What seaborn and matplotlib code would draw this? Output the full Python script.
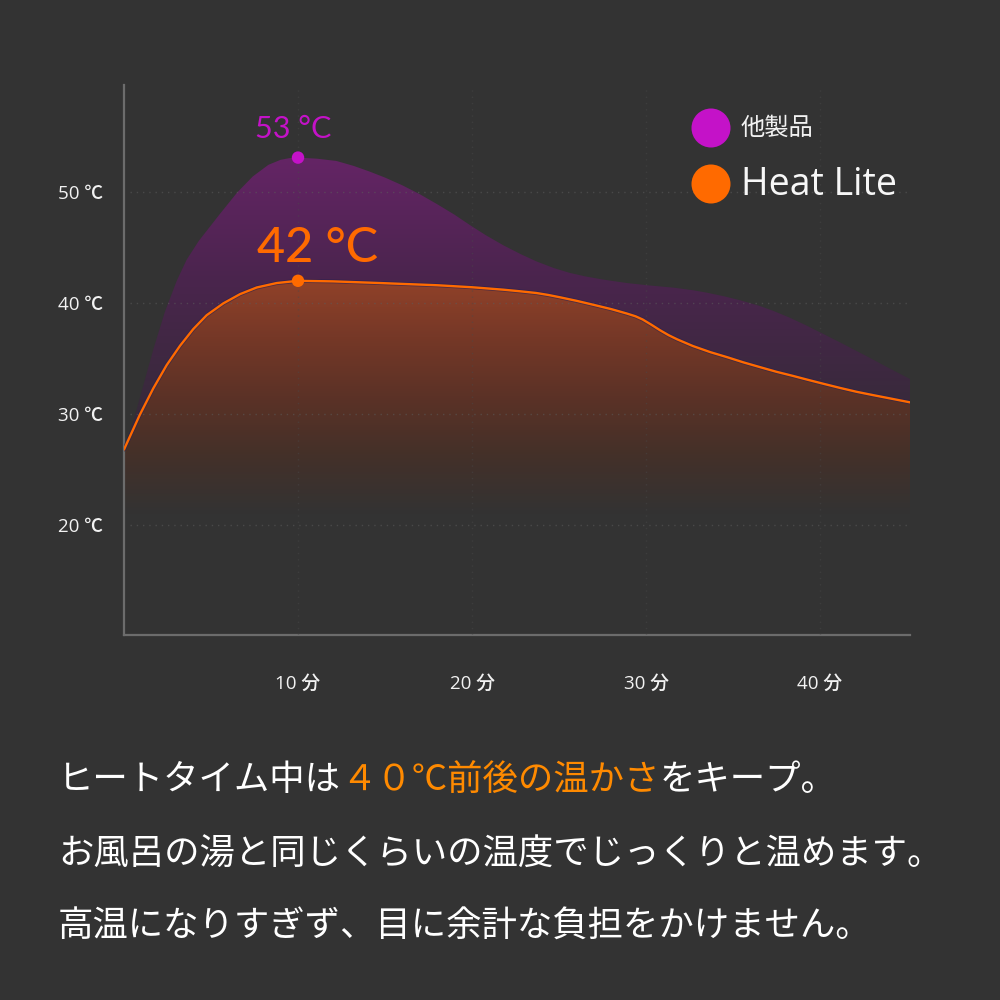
import numpy as np
import pandas as pd
import matplotlib
matplotlib.use("Agg")
import matplotlib.pyplot as plt
import seaborn as sns
from matplotlib.colors import LinearSegmentedColormap
import matplotlib.patheffects as pe
from matplotlib.patches import Circle, PathPatch

# ---------------- data ----------------
minutes_other = [0, 0.6, 1.15, 1.7, 2.35, 3.03, 3.6, 4.3, 5.5, 6.5, 7.4, 8.3, 9.0, 9.5,
                 10.0, 11.1, 12.2, 13.2, 14.1, 15.0, 16.0, 17.0, 18.0, 19.0, 19.9, 20.8,
                 21.8, 22.8, 23.7, 24.7, 25.6, 26.5, 27.5, 28.9, 30.2, 31.6, 32.7, 33.5,
                 34.5, 35.4, 36.5, 37.3, 38.3, 39.25, 40.2, 41.15, 42.1, 43.05, 44.0, 45.17]
temp_other = [26.9, 29.7, 32.8, 35.9, 39.2, 42.0, 43.9, 45.6, 48.0, 49.95, 51.4, 52.45,
              52.9, 53.05, 53.1, 53.0, 52.8, 52.35, 51.85, 51.3, 50.6, 49.8, 48.9, 47.95,
              47.0, 46.1, 45.2, 44.4, 43.75, 43.15, 42.72, 42.4, 42.12, 41.8, 41.58,
              41.38, 41.15, 40.93, 40.6, 40.25, 39.75, 39.3, 38.65, 37.95, 37.2, 36.45,
              35.68, 34.9, 34.1, 33.15]
minutes_heat = [0, 0.9, 1.68, 2.45, 3.22, 3.98, 4.75, 5.71, 6.67, 7.63, 8.78, 10.0, 12.0,
                14.7, 18.0, 20.0, 21.8, 22.8, 23.7, 24.4, 25.1, 26.0, 27.0, 28.0, 28.9,
                29.4, 29.8, 30.3, 30.8, 31.3, 31.8, 32.7, 33.7, 34.7, 35.6, 36.6, 37.5,
                38.4, 39.25, 40.2, 41.15, 42.1, 43.05, 44.1, 45.17]
temp_heat = [26.8, 29.9, 32.3, 34.4, 36.15, 37.65, 38.9, 39.97, 40.8, 41.4, 41.8, 42.0,
             41.95, 41.8, 41.6, 41.42, 41.2, 41.05, 40.9, 40.72, 40.5, 40.2, 39.83, 39.45,
             39.05, 38.8, 38.52, 38.05, 37.55, 37.1, 36.72, 36.12, 35.57, 35.1, 34.65,
             34.2, 33.8, 33.45, 33.1, 32.72, 32.35, 32.0, 31.7, 31.38, 31.05]

peak_minute = 10
peak_other = 53.1
peak_heat = 42

y_ticks = [20, 30, 40, 50]
y_tick_labels = ["20 ℃", "30 ℃", "40 ℃", "50 ℃"]
x_ticks = [10, 20, 30, 40]
x_tick_labels = ["10 分", "20 分", "30 分", "40 分"]

legend_other = "他製品"
legend_heat = "Heat Lite"
label_other = "53 °C"
label_heat = "42 °C"

line1_a = "ヒートタイム中は"
line1_b = "４０℃前後の温かさ"
line1_c = "をキープ。"
line2 = "お風呂の湯と同じくらいの温度でじっくりと温めます。"
line3 = "高温になりすぎず、目に余計な負担をかけません。"

# ---------------- style ----------------
BG = "#333333"
PURPLE = "#c412c8"
ORANGE = "#ff6a00"
TEXT_ORANGE = "#ff8a00"

sns.set_theme(style="dark")
plt.rcParams["font.family"] = ["Open Sans", "Noto Sans CJK JP", "DejaVu Sans"]
plt.rcParams["figure.facecolor"] = BG
plt.rcParams["axes.facecolor"] = BG

fig = plt.figure(figsize=(10, 10), dpi=100)
ax = fig.add_axes([0.124, 0.365, 0.786, 0.55])
ax.set_facecolor(BG)

XMIN, XMAX = 0, 45.17
YMIN, YMAX = 10.09, 59.64

df_other = pd.DataFrame({"minute": minutes_other, "temp": temp_other})
df_heat = pd.DataFrame({"minute": minutes_heat, "temp": temp_heat})


def gradient_fill(x, y, stops, zorder):
    poly = ax.fill_between(x, y, YMIN, facecolor="none", edgecolor="none", zorder=zorder)
    path = poly.get_paths()[0]
    clip = PathPatch(path, transform=ax.transData, facecolor="none", edgecolor="none")
    ax.add_patch(clip)
    cmap = LinearSegmentedColormap.from_list("g", stops)
    grad = np.linspace(0, 1, 256).reshape(-1, 1)
    im = ax.imshow(grad, extent=[XMIN, XMAX, 21.0, max(y) + 0.3], origin="lower",
                   aspect="auto", cmap=cmap, zorder=zorder, interpolation="bilinear")
    im.set_clip_path(clip)


gradient_fill(df_other["minute"], df_other["temp"],
              [(0.0, BG), (0.30, "#382a3b"), (0.65, "#4a254d"), (1.0, "#652466")], 1)
gradient_fill(df_heat["minute"], df_heat["temp"],
              [(0.0, BG), (0.25, "#443029"), (0.50, "#5c3226"), (0.75, "#763827"), (1.0, "#924229")], 2)

# grid (faint dotted)
for yv in y_ticks:
    ax.axhline(yv, xmin=0.007, color="#5c5c5c", lw=1.0, ls=(0, (1, 3.5)), alpha=0.55, zorder=3)
for xv in x_ticks:
    ax.axvline(xv, color="#4a4a4a", lw=1.0, ls=(0, (1, 3.5)), alpha=0.45, zorder=3)

# Heat Lite line
sns.lineplot(data=df_heat, x="minute", y="temp", ax=ax, color=ORANGE, lw=1.7,
             zorder=5, estimator=None, sort=False, solid_joinstyle="round",
             path_effects=[pe.Stroke(linewidth=2.9, foreground="#2a2050", alpha=0.6),
                           pe.Normal()])

# peak dots
sns.scatterplot(x=[peak_minute], y=[peak_other], ax=ax, color=PURPLE, s=80,
                edgecolor="none", zorder=6)
sns.scatterplot(x=[peak_minute], y=[peak_heat], ax=ax, color=ORANGE, s=80,
                edgecolor="none", zorder=6)

ax.text(peak_minute - 0.3, peak_other + 2.6, label_other, color=PURPLE, fontsize=22,
        ha="center", va="center", family=["Lato", "Noto Sans CJK JP"], zorder=7)
ax.text(peak_minute + 1.1, peak_other - 8.1, label_heat, color=ORANGE, fontsize=35,
        ha="center", va="center", family=["Lato", "Noto Sans CJK JP"],
        fontweight="medium", zorder=7)

ax.set_xlim(XMIN, XMAX)
ax.set_ylim(YMIN, YMAX)
ax.set_xticks(x_ticks)
ax.set_xticklabels(x_tick_labels)
ax.set_yticks(y_ticks)
ax.set_yticklabels(y_tick_labels)
ax.tick_params(axis="both", length=0, colors="#f2f2f2", labelsize=13.5)
ax.tick_params(axis="y", pad=15)
ax.tick_params(axis="x", pad=29)
for lab in ax.get_xticklabels() + ax.get_yticklabels():
    lab.set_fontweight("medium")
ax.set_xlabel("")
ax.set_ylabel("")
ax.grid(False)
for s in ["top", "right"]:
    ax.spines[s].set_visible(False)
for s in ["left", "bottom"]:
    ax.spines[s].set_visible(True)
    ax.spines[s].set_color("#6c6c6c")
    ax.spines[s].set_linewidth(1.6)

# ---------------- overlay for legend and caption ----------------
ov = fig.add_axes([0, 0, 1, 1], zorder=10)
ov.set_xlim(0, 1000)
ov.set_ylim(1000, 0)
ov.axis("off")
ov.patch.set_alpha(0)

ov.add_patch(Circle((711, 128), 19.5, color=PURPLE, lw=0))
ov.add_patch(Circle((711, 184), 19.5, color=ORANGE, lw=0))
ov.text(741, 128, legend_other, color="#f2f2f2", fontsize=17.5, va="center", ha="left",
        family=["Noto Sans CJK JP"])
ov.text(741, 185, legend_heat, color="#f7f7f7", fontsize=27, va="center", ha="left",
        family=["Open Sans", "Noto Sans CJK JP"])

cap_font = dict(fontsize=25.5, family=["Noto Sans CJK JP", "DejaVu Sans"])
t1 = ov.text(58, 780, line1_a, color="white", va="center", ha="left", **cap_font)
t2 = ov.annotate(line1_b, xy=(1, 0.5), xycoords=t1, va="center", ha="left",
                 color=TEXT_ORANGE, **cap_font)
t3 = ov.annotate(line1_c, xy=(1, 0.5), xycoords=t2, va="center", ha="left",
                 color="white", **cap_font)
ov.text(58, 855, line2, color="white", va="center", ha="left", **cap_font)
ov.text(58, 927, line3, color="white", va="center", ha="left", **cap_font)

fig.savefig("out.png", dpi=100, facecolor=BG)
